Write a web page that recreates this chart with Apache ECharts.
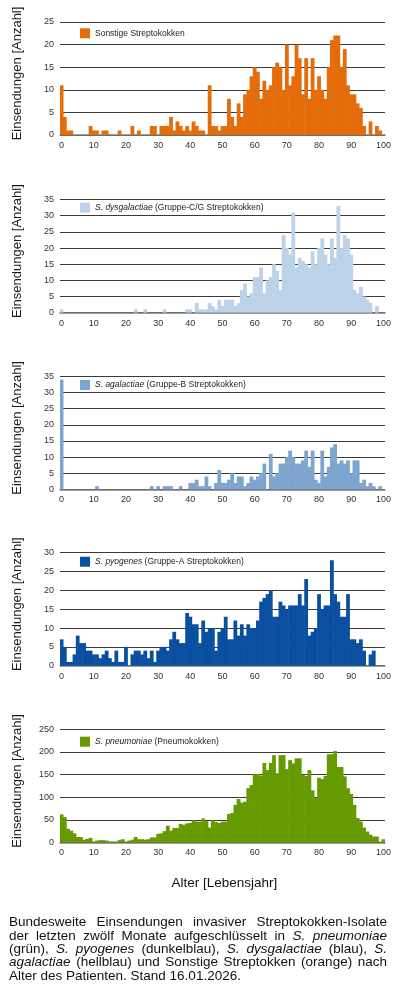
<!DOCTYPE html>
<html>
<head>
<meta charset="utf-8">
<script src="https://cdn.jsdelivr.net/npm/echarts@6/dist/echarts.min.js"></script>
<style>
html,body{margin:0;padding:0;background:#fff;}
#chart{position:absolute;left:0;top:0;width:400px;height:997px;}
#caption{position:absolute;left:9px;top:915.4px;width:378px;font-family:'Liberation Sans',Arial,sans-serif;font-size:13.5px;line-height:13.3px;color:#111;}
#caption .j{text-align:justify;text-align-last:justify;}
#caption .e{text-align:left;}
</style>
</head>
<body>
<div id="chart"></div>
<div id="caption">
<div class="j">Bundesweite Einsendungen invasiver Streptokokken-Isolate</div>
<div class="j">der letzten zwölf Monate aufgeschlüsselt in <i>S. pneumoniae</i></div>
<div class="j">(grün), <i>S. pyogenes</i> (dunkelblau), <i>S. dysgalactiae</i> (blau), <i>S.</i></div>
<div class="j"><i>agalactiae</i> (hellblau) und Sonstige Streptokken (orange) nach</div>
<div class="e">Alter des Patienten. Stand 16.01.2026.</div>
</div>
<script>
// ---- data ----
const ages = [0,1,2,3,4,5,6,7,8,9,10,11,12,13,14,15,16,17,18,19,20,21,22,23,24,25,26,27,28,29,30,31,32,33,34,35,36,37,38,39,40,41,42,43,44,45,46,47,48,49,50,51,52,53,54,55,56,57,58,59,60,61,62,63,64,65,66,67,68,69,70,71,72,73,74,75,76,77,78,79,80,81,82,83,84,85,86,87,88,89,90,91,92,93,94,95,96,97,98,99,100];

const sonstige = [11,4,1,1,0,0,0,0,0,2, 1,1,0,1,1,0,0,0,1,0, 0,0,2,0,1,0,0,0,2,2, 0,2,2,2,4,1,3,2,1,2, 1,3,2,1,1,0,11,2,2,1, 2,2,8,4,2,7,4,9,10,13, 15,14,8,12,10,11,15,16,15,10, 20,11,13,20,17,9,17,8,17,10, 13,10,8,15,21,22,22,15,19,11, 9,9,7,6,2,0,3,0,2,1, 0];

const dysgalactiae = [1,0,0,0,0,0,0,0,0,0, 0,0,0,0,0,0,0,0,0,0, 0,0,0,1,0,0,1,0,0,0, 0,0,1,0,0,0,0,0,0,1, 1,0,3,1,1,1,3,2,1,4, 2,4,4,4,2,3,7,9,5,6, 11,11,14,6,10,11,15,13,7,24, 20,18,31,14,17,16,15,14,19,15, 20,23,18,15,23,17,33,20,24,23, 18,7,6,8,5,4,3,0,2,0, 0];

const agalactiae = [34,0,0,0,0,0,0,0,0,0, 0,1,0,0,0,0,0,0,0,0, 0,0,0,0,0,0,0,0,1,0, 1,0,1,1,1,0,0,1,0,0, 2,2,3,1,1,4,1,0,2,6, 2,2,3,5,2,4,4,1,2,4, 3,4,5,8,0,11,4,5,8,8, 10,12,10,8,8,9,12,7,12,3, 2,12,4,7,13,14,8,9,8,9, 5,9,9,2,3,1,2,1,0,1, 0];

const pyogenes = [7,5,1,1,3,8,6,6,4,4, 3,3,2,3,4,2,1,4,1,1, 5,0,3,4,4,3,4,2,4,1, 4,5,5,4,7,9,7,6,6,14, 13,11,11,6,12,9,10,10,4,9, 10,13,7,7,12,8,11,8,11,10, 10,12,17,18,19,20,13,13,17,16, 15,16,16,16,19,16,23,8,9,10, 19,15,16,16,28,19,17,13,13,19, 7,7,6,7,4,0,3,4,0,0, 0];

const pneumoniae = [62,56,30,26,20,12,12,6,8,10, 2,4,5,5,4,2,2,2,5,7, 2,4,6,12,7,7,6,7,11,11, 19,20,25,37,26,32,32,41,39,42, 43,49,46,46,53,47,33,49,45,43, 46,46,63,65,83,96,88,90,120,127, 151,151,148,176,160,176,193,153,193,193, 162,182,175,186,186,149,147,160,115,98, 143,140,147,195,195,202,167,167,146,120, 107,83,54,46,33,24,17,13,13,2, 7];

const seriesNames = [
  'Sonstige Streptokokken',
  'S. dysgalactiae (Gruppe-C/G Streptokokken)',
  'S. agalactiae (Gruppe-B Streptokokken)',
  'S. pyogenes (Gruppe-A Streptokokken)',
  'S. pneumoniae (Pneumokokken)'
];
const italicParts = ['', 'S. dysgalactiae', 'S. agalactiae', 'S. pyogenes', 'S. pneumoniae'];
const seriesData = [sonstige, dysgalactiae, agalactiae, pyogenes, pneumoniae];
const yMax = [25, 35, 35, 30, 250];
const yStep = [5, 5, 5, 5, 50];
const xTitle = 'Alter [Lebensjahr]';
const yTitle = 'Einsendungen [Anzahl]';

// ---- layout / style ----
const colors = ['#E46C0A', '#BCD2E8', '#7DA5D0', '#0A4FA0', '#659A00'];
const gridTops = [22, 199.6, 376.4, 552.7, 729.4];
const legendTops = [28.3, 202.7, 380, 556.7, 736.7];
const FONT = "'Liberation Sans', Arial, sans-serif";

const chart = echarts.init(document.getElementById('chart'), null, {renderer: 'canvas'});

const grids = [], xAxes = [], yAxes = [], series = [], legends = [];
for (let i = 0; i < 5; i++) {
  grids.push({left: 60, width: 325, top: gridTops[i], height: 113});
  xAxes.push({
    type: 'category', gridIndex: i, data: ages,
    axisTick: {show: false},
    axisLine: {lineStyle: {color: '#7f7f7f', width: 1.5}},
    axisLabel: {interval: 9, fontSize: 9, color: '#333', margin: 6, fontFamily: FONT},
    splitLine: {show: false}
  });
  yAxes.push({
    type: 'value', gridIndex: i, min: 0, max: yMax[i], interval: yStep[i],
    axisLine: {show: false}, axisTick: {show: false},
    splitLine: {lineStyle: {color: '#3a3a3a', width: 1}},
    axisLabel: {fontSize: 9, color: '#333', margin: 6, fontFamily: FONT},
    name: yTitle, nameLocation: 'middle', nameRotate: 90, nameGap: 36,
    nameTextStyle: {fontSize: 13, color: '#1a1a1a', fontFamily: FONT, padding: [0, 0, 0, 10]}
  });
  series.push({
    type: 'bar', name: seriesNames[i], xAxisIndex: i, yAxisIndex: i,
    data: seriesData[i], barWidth: '118%',
    itemStyle: {color: colors[i]},
    animation: false
  });
  legends.push({
    data: [seriesNames[i]], left: 80, top: legendTops[i], padding: 0,
    itemWidth: 10, itemHeight: 10, icon: 'rect', selectedMode: false,
    formatter: (function (k) {
      return function (name) {
        if (!italicParts[k]) return '{n|' + name + '}';
        return '{i|' + italicParts[k] + '}{n|' + name.slice(italicParts[k].length) + '}';
      };
    })(i),
    textStyle: {
      fontSize: 8.5, color: '#222', fontFamily: FONT,
      rich: {
        i: {fontSize: 8.5, fontStyle: 'italic', color: '#222', fontFamily: FONT},
        n: {fontSize: 8.5, color: '#222', fontFamily: FONT}
      }
    }
  });
}

chart.setOption({
  animation: false,
  backgroundColor: '#fff',
  grid: grids, xAxis: xAxes, yAxis: yAxes, series: series, legend: legends,
  graphic: [{
    type: 'text', left: 171.5, top: 876,
    style: {text: xTitle, fontSize: 13.5, fill: '#111', fontFamily: FONT}
  }]
});
</script>
</body>
</html>
